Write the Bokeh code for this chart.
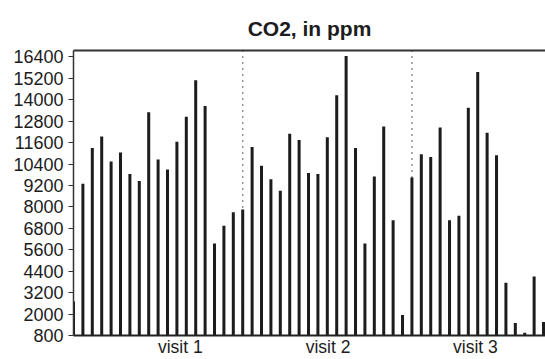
from bokeh.plotting import figure
from bokeh.models import Span, FixedTicker, LinearAxis, Range1d, ColumnDataSource
from bokeh.embed import file_html
from bokeh.resources import INLINE

# ---- data ----
co2_ppm = [2700, 9300, 11300, 11950, 10550, 11050, 9850, 9450, 13300, 10650,
           10100, 11650, 13050, 15100, 13650, 5950, 6950, 7700, 7850,
           11350, 10300, 9550, 8900, 12100, 11750, 9900, 9850, 11900, 14250,
           16450, 11300, 5950, 9700, 12500, 7250, 1950,
           9650, 10950, 10800, 12450, 7250, 7500, 13550, 15550, 12150, 10900,
           3750, 1500, 950, 4100, 1550]
visit_labels = ["visit 1", "visit 2", "visit 3"]
visit_label_pos = [11.36, 27.08, 42.76]
divider_pos = [18, 36]
y_ticks = [800, 2000, 3200, 4400, 5600, 6800, 8000, 9200, 10400, 11600,
           12800, 14000, 15200, 16400]

FONT = "Liberation Sans"
INK = "#1c1c1c"

idx = list(range(len(co2_ppm)))
src = ColumnDataSource(dict(x=idx, top=co2_ppm))

p = figure(width=545, height=359, output_backend="svg", toolbar_location=None,
           x_range=Range1d(0, 50.21), y_range=Range1d(800, 16760),
           min_border_left=73, min_border_right=0, min_border_top=50,
           min_border_bottom=0, x_axis_location=None, y_axis_location=None)
p.outline_line_color = None
p.grid.visible = False
p.background_fill_color = "white"

p.title.text = "CO2, in ppm"
p.title.text_font = FONT
p.title.text_font_size = "21px"
p.title.text_font_style = "bold"
p.title.text_color = INK
p.title.align = "center"
p.title.vertical_align = "top"
p.title.standoff = 18

p.vbar(x="x", top="top", bottom=800, width=0.32, source=src,
       fill_color=INK, line_color=None)

for d in divider_pos:
    p.add_layout(Span(location=d, dimension="height", line_color="#222222",
                      line_width=1.5, line_dash="1 5", level="overlay"))

# left axis
ya = LinearAxis(ticker=FixedTicker(ticks=y_ticks))
ya.axis_line_color = "#333333"
ya.axis_line_width = 1.5
ya.major_tick_line_color = "#333333"
ya.major_tick_out = 5
ya.major_tick_in = 0
ya.minor_tick_line_color = None
ya.major_label_standoff = 5
ya.major_label_text_font = FONT
ya.major_label_text_font_size = "18px"
ya.major_label_text_color = INK
p.add_layout(ya, "left")

# bottom axis with visit labels
xa = LinearAxis(ticker=FixedTicker(ticks=visit_label_pos))
xa.major_label_overrides = {v: l for v, l in zip(visit_label_pos, visit_labels)}
xa.axis_line_color = "#222222"
xa.axis_line_width = 2
xa.major_tick_line_color = None
xa.major_tick_out = 0
xa.major_tick_in = 0
xa.minor_tick_line_color = None
xa.major_label_standoff = 1
xa.major_label_text_font = FONT
xa.major_label_text_font_size = "17.5px"
xa.major_label_text_color = INK
p.add_layout(xa, "below")

# top border
ta = LinearAxis(ticker=FixedTicker(ticks=[]))
ta.axis_line_color = "#333333"
ta.axis_line_width = 2
ta.major_tick_line_color = None
ta.major_tick_out = 0
ta.major_tick_in = 0
ta.minor_tick_line_color = None
ta.major_label_standoff = 0
ta.major_label_text_font_size = "0px"
p.add_layout(ta, "above")

open("out.html", "w").write(file_html(p, INLINE))
